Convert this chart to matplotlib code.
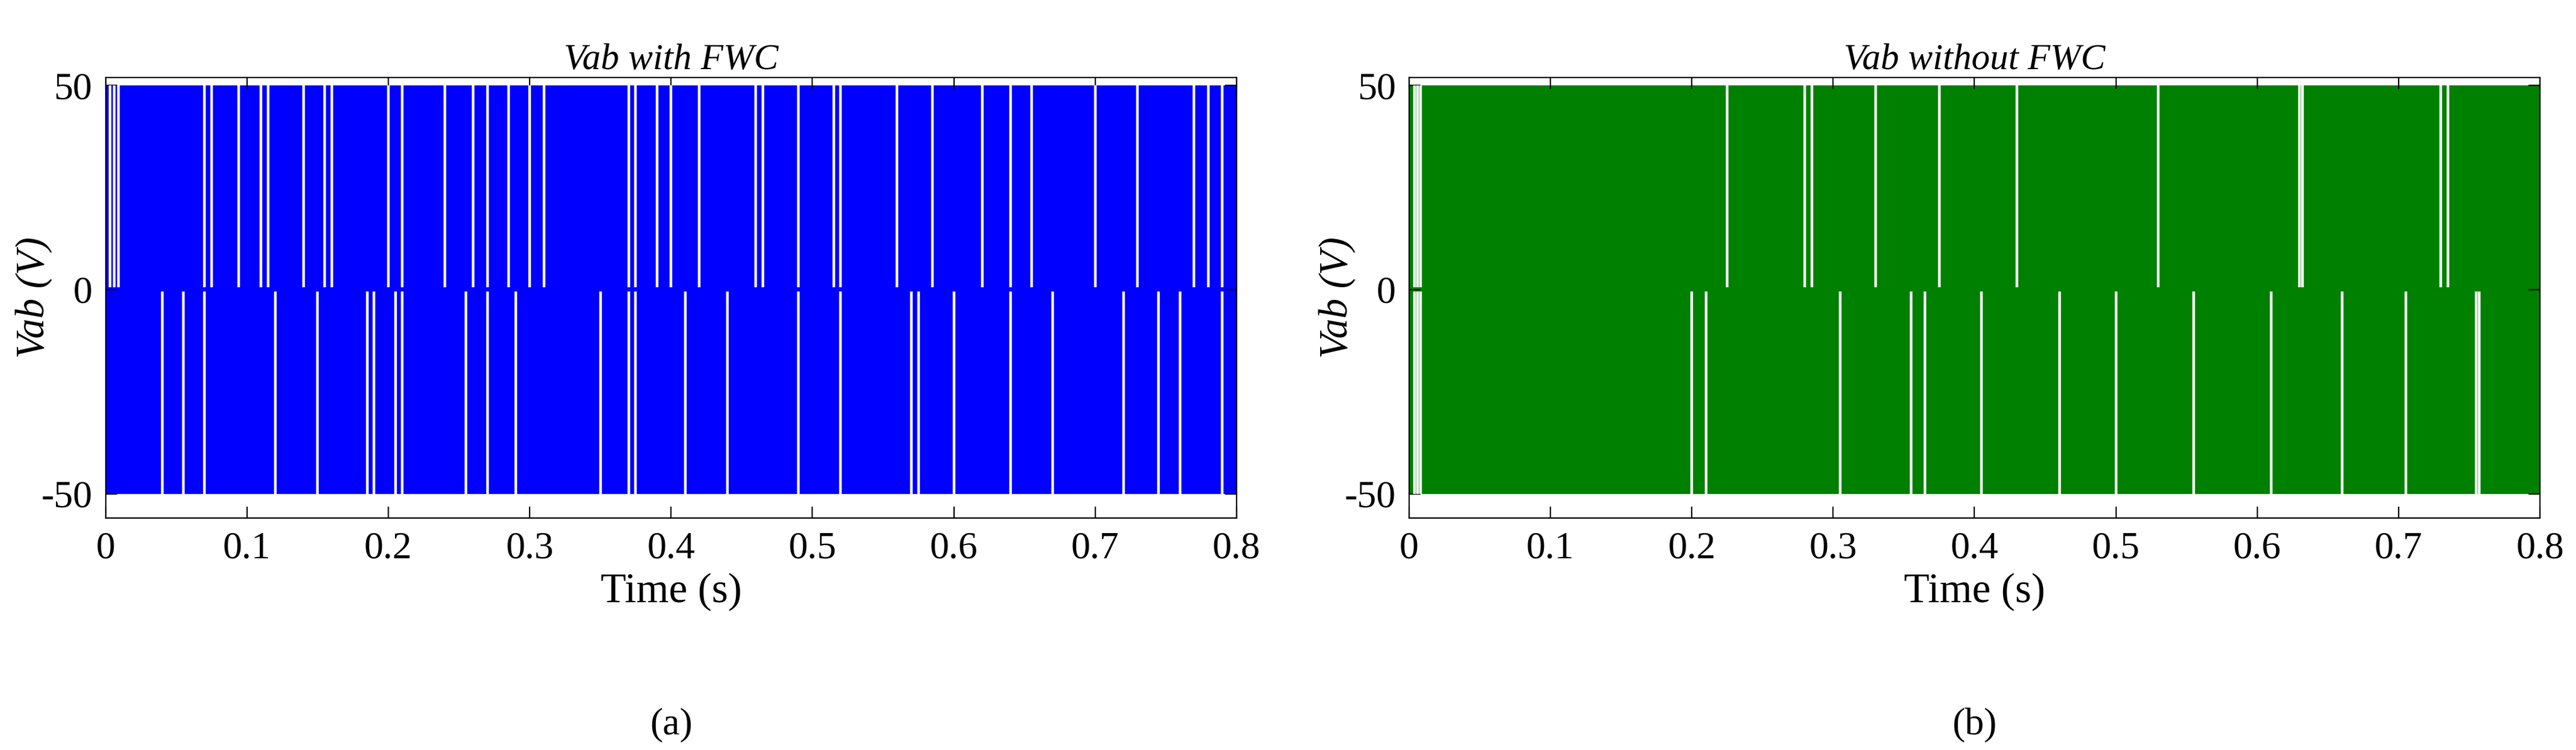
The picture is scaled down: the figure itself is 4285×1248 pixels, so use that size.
import matplotlib
matplotlib.use("Agg")
import matplotlib.pyplot as plt

amp = 50
xticks = [0, 0.1, 0.2, 0.3, 0.4, 0.5, 0.6, 0.7, 0.8]
yticks = [-50, 0, 50]
titles = ["Vab with FWC", "Vab without FWC"]
captions = ["(a)", "(b)"]
colors = ["#0000ff", "#008000"]

# white gaps (time positions, s)
pos_gaps_a = [0.003, 0.006, 0.009, 0.07, 0.075, 0.094, 0.11, 0.115, 0.14, 0.155, 0.16, 0.2, 0.21,
              0.24, 0.26, 0.27, 0.285, 0.3, 0.31, 0.37, 0.375, 0.39, 0.4, 0.42, 0.46, 0.465, 0.49,
              0.515, 0.52, 0.56, 0.585, 0.62, 0.64, 0.655, 0.7, 0.73, 0.77, 0.78, 0.79]
neg_gaps_a = [0.04, 0.055, 0.07, 0.12, 0.15, 0.185, 0.19, 0.205, 0.21, 0.255, 0.27, 0.29, 0.35,
              0.37, 0.375, 0.41, 0.44, 0.49, 0.52, 0.57, 0.575, 0.6, 0.64, 0.67, 0.72, 0.745,
              0.76, 0.79]
pos_gaps_b = [0.004, 0.006, 0.008, 0.225, 0.28, 0.285, 0.33, 0.375, 0.43, 0.53, 0.63, 0.632,
              0.73, 0.735]
neg_gaps_b = [0.004, 0.006, 0.008, 0.2, 0.21, 0.305, 0.355, 0.365, 0.405, 0.46, 0.5, 0.555,
              0.61, 0.66, 0.705, 0.755, 0.757]

plt.rcParams['font.family'] = ['Liberation Serif', 'DejaVu Serif']
fig = plt.figure(figsize=(21.425, 6.24), dpi=200)
lefts = [0.041, 0.547]
w = 0.439
for i, (pg, ng) in enumerate([(pos_gaps_a, neg_gaps_a), (pos_gaps_b, neg_gaps_b)]):
    ax = fig.add_axes([lefts[i], 0.309, w, 0.588])
    ax.fill_between([0, 0.8], 0, amp, color=colors[i], lw=0)
    ax.fill_between([0, 0.8], -amp, 0, color=colors[i], lw=0)
    ax.vlines(pg, 0.5, amp, color="white", lw=1.6)
    ax.vlines(ng, -amp, -0.5, color="white", lw=1.6)
    ax.set_xlim(0, 0.8)
    ax.set_ylim(-56, 52)
    ax.set_xticks(xticks)
    ax.set_xticklabels([f"{t:g}" for t in xticks])
    ax.set_yticks(yticks)
    ax.set_yticklabels([str(t) for t in yticks])
    ax.tick_params(direction="in", top=True, right=True, labelsize=23, length=7, pad=8)
    ax.set_title(titles[i], fontsize=22, style="italic", pad=5)
    ax.set_ylabel("Vab (V)", fontsize=24, style="italic")
    ax.yaxis.set_label_coords(-0.047, 0.5)
    ax.set_xlabel("Time (s)", fontsize=25, labelpad=4)
    ax.text(0.5, -0.43, captions[i], transform=ax.transAxes, ha="center", va="top", fontsize=23)
fig.savefig("out.png", dpi=200)
